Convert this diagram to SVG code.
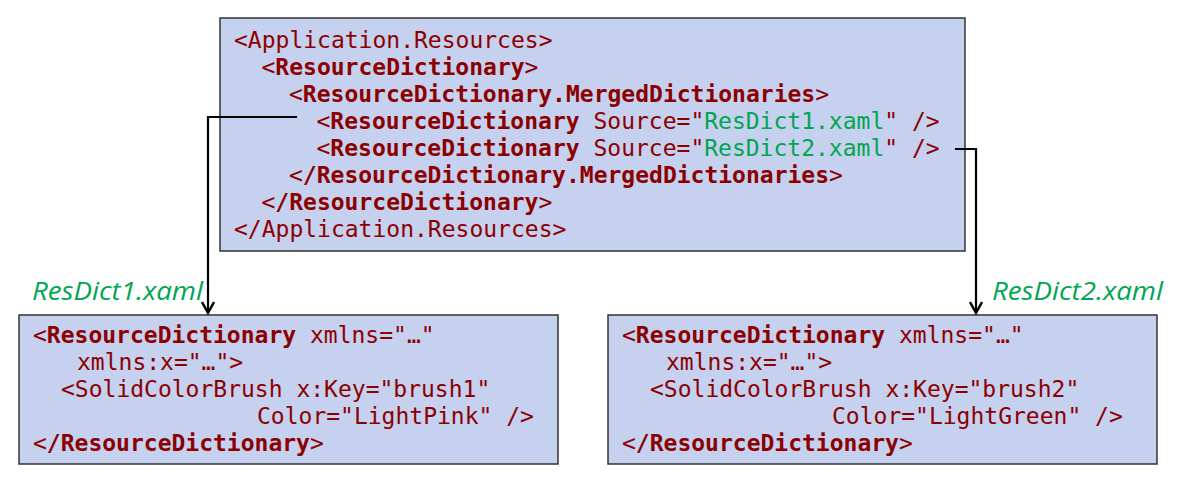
<svg xmlns="http://www.w3.org/2000/svg" width="1181" height="486" viewBox="0 0 1181 486">
<style>
.box{fill:#C6D0EF;stroke:#333;stroke-width:1.5}
.code{font-family:"DejaVu Sans Mono","Liberation Mono",monospace;font-size:23px;fill:#8B0000}
.b{font-weight:bold}
.g{fill:#00A651}
.lbl{font-family:"Open Sans","Liberation Sans",sans-serif;font-style:italic;font-size:25.5px;fill:#00A651}
.con{fill:none;stroke:#000;stroke-width:2.2}
</style>
<defs>
<marker id="arr" markerWidth="14" markerHeight="14" refX="12" refY="7" orient="auto" markerUnits="userSpaceOnUse">
<path d="M1,1 L12,7 L1,13" fill="none" stroke="#000" stroke-width="2.4"/>
</marker>
</defs>
<g id="app-resources">
<rect class="box" x="220" y="18" width="745" height="233"/>
<text class="code" x="234" y="48">&lt;Application.Resources&gt;</text>
<text class="code" x="261.5" y="75">&lt;<tspan class="b">ResourceDictionary</tspan>&gt;</text>
<text class="code" x="289" y="102">&lt;<tspan class="b">ResourceDictionary.MergedDictionaries</tspan>&gt;</text>
<text class="code" x="316.5" y="129" xml:space="preserve">&lt;<tspan class="b">ResourceDictionary</tspan> Source="<tspan class="g">ResDict1.xaml</tspan>" /&gt;</text>
<text class="code" x="316.5" y="156" xml:space="preserve">&lt;<tspan class="b">ResourceDictionary</tspan> Source="<tspan class="g">ResDict2.xaml</tspan>" /&gt;</text>
<text class="code" x="289" y="183">&lt;<tspan class="b">/ResourceDictionary.MergedDictionaries</tspan>&gt;</text>
<text class="code" x="261.5" y="210">&lt;<tspan class="b">/ResourceDictionary</tspan>&gt;</text>
<text class="code" x="234" y="237">&lt;/Application.Resources&gt;</text>
</g>
<g id="resdict1">
<rect class="box" x="19" y="315" width="539" height="149"/>
<text class="code" x="33" y="343" xml:space="preserve">&lt;<tspan class="b">ResourceDictionary</tspan> xmlns="…"</text>
<text class="code" x="77" y="370">xmlns:x="…"&gt;</text>
<text class="code" x="61" y="397">&lt;SolidColorBrush x:Key="brush1"</text>
<text class="code" x="257" y="424">Color="LightPink" /&gt;</text>
<text class="code" x="33" y="451">&lt;<tspan class="b">/ResourceDictionary</tspan>&gt;</text>
</g>
<g id="resdict2">
<rect class="box" x="608" y="315" width="549" height="149"/>
<text class="code" x="622" y="343" xml:space="preserve">&lt;<tspan class="b">ResourceDictionary</tspan> xmlns="…"</text>
<text class="code" x="666" y="370">xmlns:x="…"&gt;</text>
<text class="code" x="650" y="397">&lt;SolidColorBrush x:Key="brush2"</text>
<text class="code" x="832" y="424">Color="LightGreen" /&gt;</text>
<text class="code" x="622" y="451">&lt;<tspan class="b">/ResourceDictionary</tspan>&gt;</text>
</g>
<g id="labels">
<text class="lbl" x="32" y="300" textLength="171" lengthAdjust="spacingAndGlyphs">ResDict1.xaml</text>
<text class="lbl" x="992" y="300" textLength="171" lengthAdjust="spacingAndGlyphs">ResDict2.xaml</text>
</g>
<g id="connectors">
<path class="con" d="M297,117 H208 V313" marker-end="url(#arr)"/>
<path class="con" d="M955,149 H976 V313" marker-end="url(#arr)"/>
</g>
</svg>
